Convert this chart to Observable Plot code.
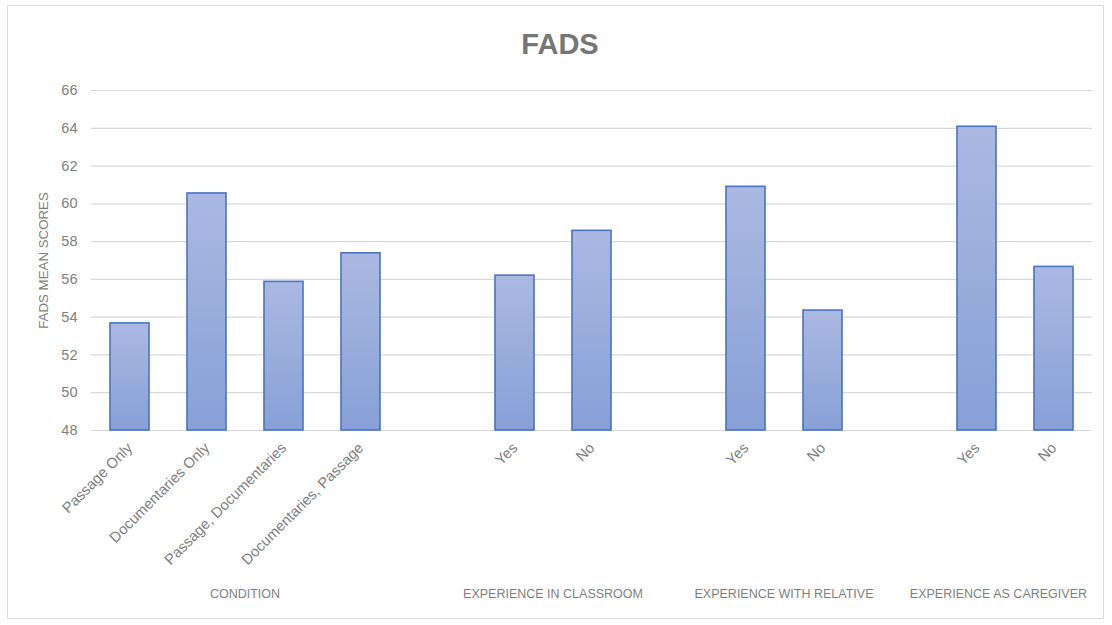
<!DOCTYPE html>
<html>
<head>
<meta charset="utf-8">
<script src="https://cdn.jsdelivr.net/npm/d3@7"></script>
<script src="https://cdn.jsdelivr.net/npm/@observablehq/plot@0.6"></script>
<style>
  html, body { margin: 0; padding: 0; background: #fff; }
  #wrap { position: relative; width: 1112px; height: 625px; overflow: hidden; }
  #frame { position: absolute; left: 7px; top: 5px; width: 1097px; height: 614px; border: 1px solid #d9d9d9; box-sizing: border-box; }
  #title { position: absolute; left: 0; top: 28px; width: 1120px; text-align: center;
           font-family: "Liberation Sans", Arial, sans-serif; font-weight: bold; font-size: 29px; color: #767676; margin: 0; line-height: 1.15; }
  #chart { position: absolute; left: 0; top: 0; }
</style>
</head>
<body>
<div id="wrap">
  <div id="frame"></div>
  <div id="chart"></div>
  <h1 id="title">FADS</h1>
</div>
<script>
// ---- data ----
const groups = ["CONDITION", "EXPERIENCE IN CLASSROOM", "EXPERIENCE WITH RELATIVE", "EXPERIENCE AS CAREGIVER"];
const groupCategories = [
  ["Passage Only", "Documentaries Only", "Passage, Documentaries", "Documentaries, Passage"],
  ["Yes", "No"],
  ["Yes", "No"],
  ["Yes", "No"]
];
const groupValues = [
  [53.67, 60.55, 55.87, 57.38],
  [56.2, 58.57],
  [60.9, 54.35],
  [64.08, 56.66]
];
const yTicks = [48, 50, 52, 54, 56, 58, 60, 62, 64, 66];
const yLabel = "FADS MEAN SCORES";

// build table + x domain (with an empty slot between groups)
const rows = [];
const domain = [];
groups.forEach((g, gi) => {
  if (gi > 0) domain.push("gap" + gi);
  groupCategories[gi].forEach((c, ci) => {
    const key = gi + "|" + c;
    domain.push(key);
    rows.push({key, label: c, group: g, value: groupValues[gi][ci]});
  });
});
const labelOf = new Map(rows.map(d => [d.key, d.label]));

const FONT = '"Liberation Sans", Arial, sans-serif';
const GRAY = "#7f7f7f";
const MARGIN_RIGHT = 20;

// gradient definition mark
function gradientDefs() {
  const ns = "http://www.w3.org/2000/svg";
  const defs = document.createElementNS(ns, "defs");
  const lg = document.createElementNS(ns, "linearGradient");
  lg.setAttribute("id", "barGrad");
  lg.setAttribute("x1", "0"); lg.setAttribute("y1", "0");
  lg.setAttribute("x2", "0"); lg.setAttribute("y2", "1");
  [["0%", "#abb9e1"], ["100%", "#87a0d7"]].forEach(([o, c]) => {
    const s = document.createElementNS(ns, "stop");
    s.setAttribute("offset", o); s.setAttribute("stop-color", c);
    lg.appendChild(s);
  });
  defs.appendChild(lg);
  return defs;
}

// group labels centred under each group, via the x scale
function groupLabels(index, scales, values, dimensions) {
  const ns = "http://www.w3.org/2000/svg";
  const g = document.createElementNS(ns, "g");
  g.setAttribute("class", "group-labels");
  const sx = scales.x;
  const bw = typeof sx.bandwidth === "function" ? sx.bandwidth() : (sx.bandwidth || 0);
  groups.forEach((name, gi) => {
    const cats = groupCategories[gi];
    const x0 = sx(gi + "|" + cats[0]);
    const x1 = sx(gi + "|" + cats[cats.length - 1]);
    const cx = (x0 + x1) / 2 + bw / 2;
    const t = document.createElementNS(ns, "text");
    t.setAttribute("x", cx);
    t.setAttribute("y", dimensions.height - 27);
    t.setAttribute("text-anchor", "middle");
    t.setAttribute("fill", GRAY);
    t.setAttribute("font-size", "12.5px");
    t.setAttribute("font-family", FONT);
    t.textContent = name;
    g.appendChild(t);
  });
  return g;
}

const chart = Plot.plot({
  width: 1112,
  height: 625,
  marginLeft: 91,
  marginRight: MARGIN_RIGHT,
  marginTop: 90,
  marginBottom: 195,
  style: {fontFamily: FONT, background: "transparent", overflow: "visible"},
  x: {domain, paddingInner: 0.49, paddingOuter: 0.245, label: null},
  y: {domain: [48, 66], label: null},
  marks: [
    gradientDefs,
    Plot.ruleY(yTicks, {stroke: "#d9d9d9", strokeWidth: 1.2}),
    Plot.axisY({ticks: yTicks, tickSize: 0, tickPadding: 14, fontSize: 14.5, fill: GRAY, label: null}),
    Plot.axisX({tickSize: 0, tickPadding: 15, tickRotate: -45, fontSize: 14.8, fill: GRAY, label: null,
                tickFormat: k => labelOf.get(k) || ""}),
    Plot.barY(rows, {x: "key", y1: 48, y2: "value", fill: "url(#barGrad)", stroke: "#4a74c4", strokeWidth: 1.6}),
    Plot.text([yLabel], {frameAnchor: "left", textAnchor: "middle", rotate: -90, dx: -48, fill: GRAY, fontSize: 13.3}),
    groupLabels
  ]
});
document.getElementById("chart").appendChild(chart);

// keep group labels inside the plot area (as the spreadsheet does)
const limit = 1112 - MARGIN_RIGHT - 5;
chart.querySelectorAll(".group-labels text").forEach(t => {
  const b = t.getBBox();
  const over = b.x + b.width - limit;
  if (over > 0) t.setAttribute("x", +t.getAttribute("x") - over);
});
</script>
</body>
</html>
